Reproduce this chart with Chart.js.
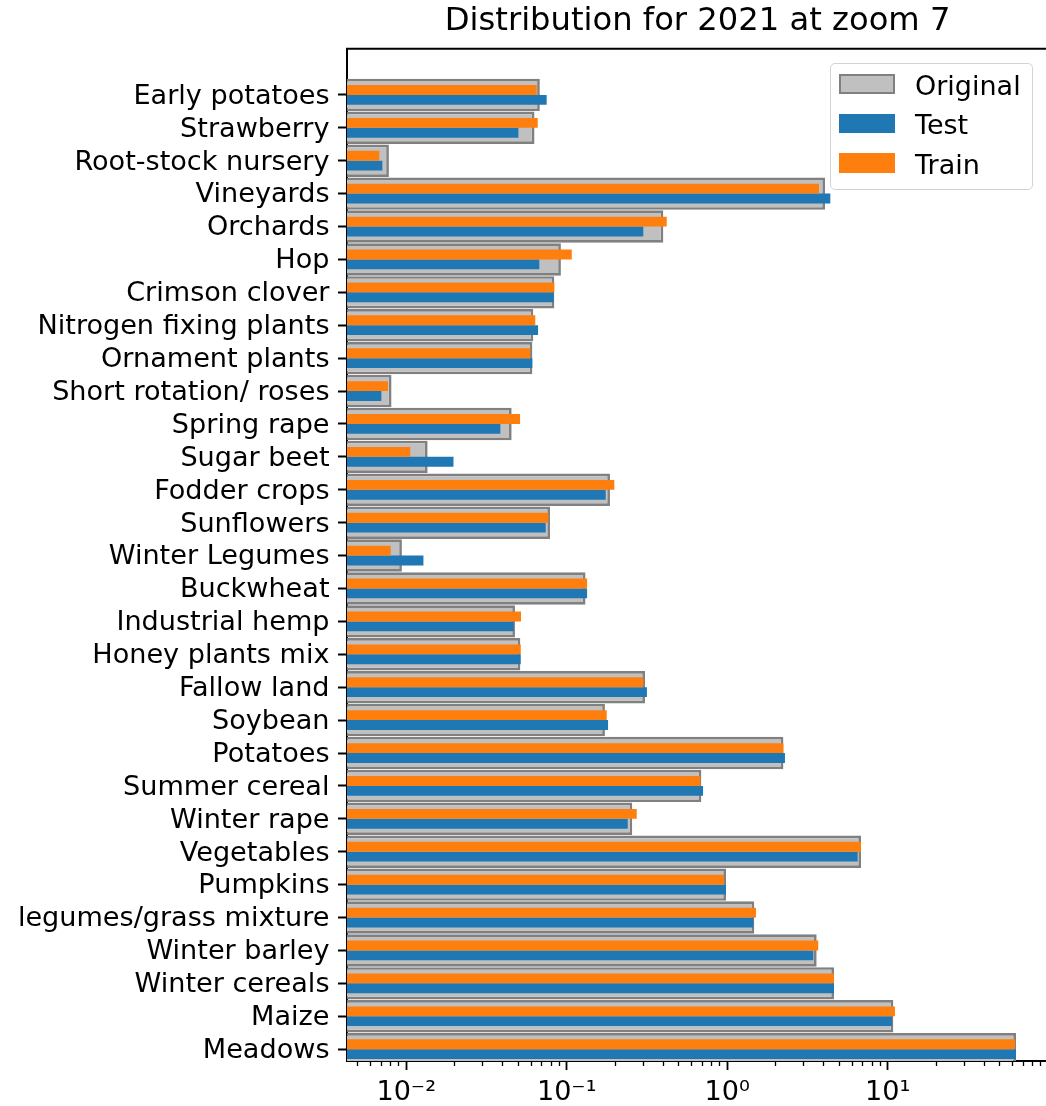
<!DOCTYPE html>
<html>
<head>
<meta charset="utf-8">
<title>Distribution for 2021 at zoom 7</title>
<script src="https://cdn.jsdelivr.net/npm/chart.js@4/dist/chart.umd.min.js"></script>
<style>
  html, body { margin: 0; padding: 0; background: #ffffff; overflow: hidden; }
  #wrap { position: relative; width: 1050px; height: 1106px; }
  #chart { position: absolute; left: 0; top: 0; }
  #legend {
    position: absolute; left: 830px; top: 62.7px; width: 201px; height: 125px;
    border: 1.3px solid #d3d3d3; border-radius: 5px; background: rgba(255,255,255,0.85);
    font-family: 'DejaVu Sans', sans-serif; font-size: 27px; color: #000;
  }
  .swatch { position: absolute; left: 8px; width: 56.4px; height: 19.3px; box-sizing: border-box; }
  .label { position: absolute; left: 84px; line-height: 1; white-space: nowrap; }
</style>
</head>
<body>
<div id="wrap">
  <canvas id="chart" width="1050" height="1106"></canvas>
  <div id="legend"></div>
</div>
<script>
// Crop classes, top to bottom
const categories = [
  'Early potatoes', 'Strawberry', 'Root-stock nursery', 'Vineyards', 'Orchards',
  'Hop', 'Crimson clover', 'Nitrogen fixing plants', 'Ornament plants',
  'Short rotation/ roses', 'Spring rape', 'Sugar beet', 'Fodder crops',
  'Sunflowers', 'Winter Legumes', 'Buckwheat', 'Industrial hemp',
  'Honey plants mix', 'Fallow land', 'Soybean', 'Potatoes', 'Summer cereal',
  'Winter rape', 'Vegetables', 'Pumpkins', 'legumes/grass mixture',
  'Winter barley', 'Winter cereals', 'Maize', 'Meadows'
];

// Share of each class (%) in the original data and the two splits
const originalShare = [
  0.068, 0.063, 0.0078, 4.07, 0.400,
  0.092, 0.0837, 0.0619, 0.0611,
  0.0081, 0.0454, 0.0136, 0.186,
  0.0787, 0.0094, 0.131, 0.0476,
  0.0514, 0.3075, 0.173, 2.24, 0.690,
  0.256, 6.82, 0.983, 1.475,
  3.61, 4.63, 10.84, 63.0
];
const testShare = [
  0.075, 0.050, 0.0071, 4.39, 0.300,
  0.0675, 0.083, 0.0663, 0.0611,
  0.0070, 0.0386, 0.0197, 0.175,
  0.0740, 0.0128, 0.134, 0.0467,
  0.0517, 0.316, 0.181, 2.29, 0.707,
  0.240, 6.50, 0.983, 1.454,
  3.44, 4.63, 10.64, 63.0
];
const trainShare = [
  0.065, 0.066, 0.0068, 3.73, 0.420,
  0.1075, 0.0837, 0.0637, 0.0593,
  0.0077, 0.0512, 0.0106, 0.198,
  0.0768, 0.0080, 0.134, 0.0519,
  0.0517, 0.300, 0.1775, 2.24, 0.680,
  0.273, 6.82, 0.955, 1.511,
  3.69, 4.63, 11.10, 62.1
];

// Labelled decades on the log axis
const xTickValues = [0.01, 0.1, 1, 10];
const xTickLabels = ['10\u207B\u00B2', '10\u207B\u00B9', '10\u2070', '10\u00B9'];

const X_MIN = 0.004276;
const X_MAX = 100;

// Minor tick positions 2..9 within each decade
const xMinorValues = [];
for (let e = -3; e <= 1; e++) {
  for (let k = 2; k <= 9; k++) {
    const v = k * Math.pow(10, e);
    if (v > X_MIN && v < X_MAX) xMinorValues.push(v);
  }
}

const FONT = 'DejaVu Sans';
const LABEL_SIZE = 27.1;
const asPoints = (arr) => arr.map((v, i) => ({ x: v, y: i }));

// Top spine of the axes frame
const topFrame = {
  id: 'topFrame',
  afterDraw(chart) {
    const { ctx, chartArea } = chart;
    ctx.save();
    ctx.strokeStyle = '#000';
    ctx.lineWidth = 2;
    ctx.beginPath();
    ctx.moveTo(chartArea.left - 1, chartArea.top);
    ctx.lineTo(chartArea.right + 2, chartArea.top);
    ctx.stroke();
    ctx.restore();
  }
};

const chart = new Chart(document.getElementById('chart'), {
  type: 'bar',
  data: {
    datasets: [
      {
        label: 'Original',
        data: asPoints(originalShare),
        backgroundColor: '#c0c0c0',
        borderColor: '#808080',
        borderWidth: 2.7,
        grouped: false,
        categoryPercentage: 1,
        barPercentage: 0.985,
        order: 2
      },
      {
        label: 'Train',
        data: asPoints(trainShare),
        backgroundColor: '#ff7f0e',
        borderWidth: 0,
        categoryPercentage: 0.6,
        barPercentage: 1,
        order: 1
      },
      {
        label: 'Test',
        data: asPoints(testShare),
        backgroundColor: '#1f77b4',
        borderWidth: 0,
        categoryPercentage: 0.6,
        barPercentage: 1,
        order: 1
      }
    ]
  },
  options: {
    indexAxis: 'y',
    responsive: false,
    animation: false,
    layout: { padding: { left: 0, right: 1.8, top: 0, bottom: 0 } },
    plugins: {
      legend: { display: false },
      tooltip: { enabled: false },
      title: {
        display: true,
        text: 'Distribution for 2021 at zoom 7',
        color: '#000',
        font: { family: FONT, size: 32.2, weight: 'normal' },
        padding: { top: 2.5, bottom: 7.7 },
        fullSize: false
      }
    },
    scales: {
      y: {
        type: 'linear',
        reverse: true,
        offset: false,
        min: -1.4,
        max: 29.36,
        afterBuildTicks: (s) => { s.ticks = categories.map((_, i) => ({ value: i })); },
        afterFit: (s) => { s.width = 347; },
        ticks: {
          autoSkip: false,
          callback: (v) => categories[v] ?? '',
          color: '#000',
          font: { family: FONT, size: LABEL_SIZE },
          padding: 8.5,
          labelOffset: 1.8
        },
        grid: { offset: false, drawOnChartArea: false, drawTicks: true, tickLength: 9, tickWidth: 2, tickColor: '#000' },
        border: { display: true, color: '#000', width: 2 },
        z: 1
      },
      x: {
        type: 'logarithmic',
        position: 'bottom',
        weight: 1,
        min: X_MIN,
        max: X_MAX,
        afterBuildTicks: (s) => { s.ticks = xTickValues.map(v => ({ value: v })); },
        afterFit: (s) => { s.height = 45; },
        ticks: {
          autoSkip: false,
          maxRotation: 0,
          callback: (v) => {
            const i = xTickValues.findIndex(t => Math.abs(t - v) < t * 1e-6);
            return i >= 0 ? xTickLabels[i] : '';
          },
          color: '#000',
          font: { family: FONT, size: LABEL_SIZE },
          padding: 6.5
        },
        grid: { drawOnChartArea: false, drawTicks: true, tickLength: 9, tickWidth: 1.8, tickColor: '#000' },
        border: { display: true, color: '#000', width: 2 },
        z: 1
      },
      xMinor: {
        type: 'logarithmic',
        axis: 'x',
        position: 'bottom',
        weight: 0,
        min: X_MIN,
        max: X_MAX,
        afterBuildTicks: (s) => { s.ticks = xMinorValues.map(v => ({ value: v })); },
        afterFit: (s) => { s.height = 0; },
        ticks: { display: false },
        grid: { drawOnChartArea: false, drawTicks: true, tickLength: 5, tickWidth: 1.3, tickColor: '#000' },
        border: { display: false },
        z: 1
      }
    }
  },
  plugins: [topFrame]
});

// Legend box built from the chart's own datasets
const legendOrder = ['Original', 'Test', 'Train'];
const legendEl = document.getElementById('legend');
legendOrder.forEach((name, row) => {
  const ds = chart.data.datasets.find(d => d.label === name);
  const top = 10.7 + row * 39.5;
  const sw = document.createElement('div');
  sw.className = 'swatch';
  sw.style.top = top + 'px';
  sw.style.background = ds.backgroundColor;
  if (ds.borderWidth) sw.style.border = ds.borderWidth + 'px solid ' + ds.borderColor;
  const lb = document.createElement('div');
  lb.className = 'label';
  lb.style.top = (top - 2.8) + 'px';
  lb.textContent = ds.label;
  legendEl.appendChild(sw);
  legendEl.appendChild(lb);
});
</script>
</body>
</html>
